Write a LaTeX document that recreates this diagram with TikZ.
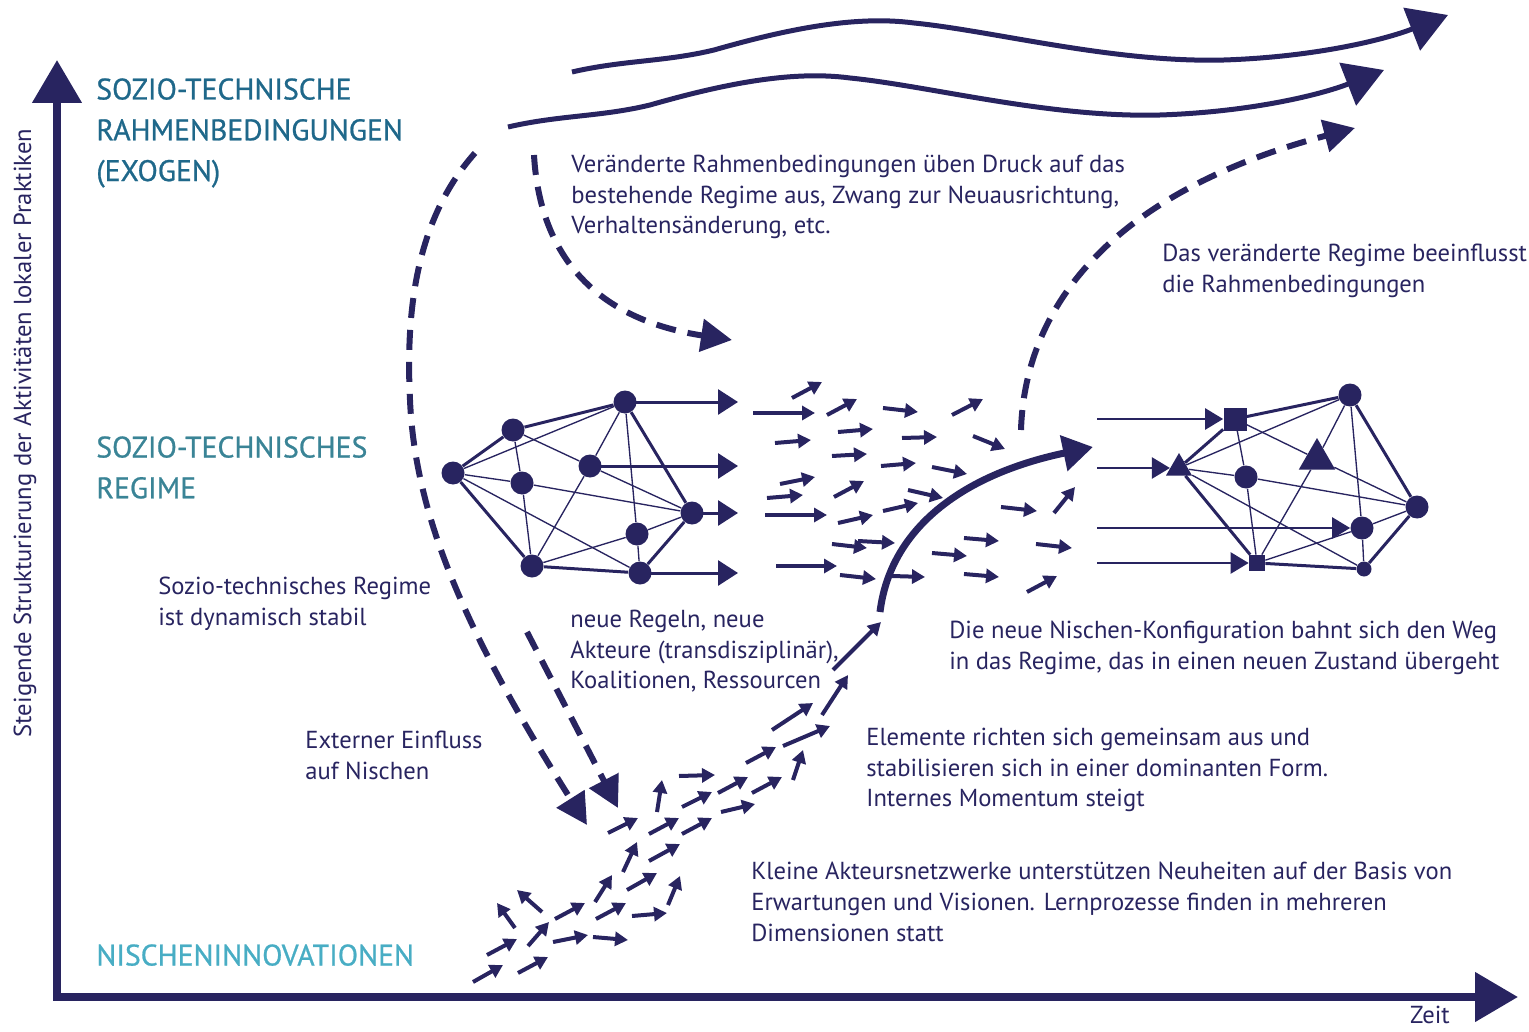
\documentclass[tikz,border=0pt]{standalone}
\usepackage{fontspec}
\setmainfont{PT Sans}
\newfontfamily\headfont[FakeBold=0.8]{PT Sans}
\usetikzlibrary{arrows.meta}
\usetikzlibrary{shapes.geometric}

\definecolor{navy}{RGB}{40,36,96}
\definecolor{tealA}{RGB}{31,104,138}
\definecolor{tealB}{RGB}{58,132,150}
\definecolor{tealC}{RGB}{72,173,196}

\tikzset{
  axis/.style={navy, line width=1.6mm, line cap=rect, -{Triangle[length=8.6mm,width=9.6mm]}},
  wave/.style={navy, line width=1mm, -{Triangle[length=7.8mm,width=9mm]}},
  dasharrow/.style={navy, line width=1.2mm, dash pattern=on 4mm off 2.4mm, -{Triangle[length=6.2mm,width=6.4mm]}},
  pusharrow/.style={navy, line width=1.4mm, -{Triangle[length=6mm,width=7mm]}},
  smallarrow/.style={navy, line width=0.8mm, -{Triangle[length=2.6mm,width=2.8mm]}},
  netarrow/.style={navy, line width=0.6mm, -{Triangle[length=4mm,width=5mm]}},
  inarrow/.style={navy, line width=0.5mm, -{Triangle[length=3.6mm,width=4.2mm]}},
  dot/.style={circle, fill=navy, inner sep=0, minimum size=4.6mm},
  smalldot/.style={circle, fill=navy, inner sep=0, minimum size=3mm},
  sq/.style={rectangle, fill=navy, inner sep=0, minimum size=#1},
  tri/.style={regular polygon, regular polygon sides=3, fill=navy, inner sep=0, minimum size=#1},
  outer/.style={navy, line width=0.6mm},
  inner/.style={navy, line width=0.27mm},
  bodytext/.style={text=navy, align=left, inner sep=0, anchor=north west, font=\fontsize{14}{17.4}\selectfont},
  headtext/.style={align=left, inner sep=0, anchor=north west, font=\headfont\fontsize{16.9}{23.2}\selectfont}
}

\begin{document}
\begin{tikzpicture}[x=0.2mm, y=-0.2mm]
\useasboundingbox (0,0) rectangle (1529,1032);

% axes
\coordinate (origin) at (57,997);
\coordinate (ytop) at (57,60);
\coordinate (xend) at (1518,997);
\draw[axis] (origin) -- (ytop);
\draw[axis] (origin) -- (xend);
\node[text=navy, rotate=90, font=\fontsize{14}{16}\selectfont] (ylabel) at (25,433) {Steigende Strukturierung der Aktivitäten lokaler Praktiken};
\node[text=navy, font=\fontsize{14}{16}\selectfont] (xlabel) at (1430,1015) {Zeit};

% headings
\node[headtext, text=tealA] (hframe) at (96,78) {SOZIO-TECHNISCHE\\RAHMENBEDINGUNGEN\\(EXOGEN)};
\node[headtext, text=tealB] (hregime) at (96,436) {SOZIO-TECHNISCHES\\REGIME};
\node[headtext, text=tealC] (hniche) at (96,944) {NISCHENINNOVATIONEN};

% descriptions
\node[bodytext] (tpressure) at (571,155) {Veränderte Rahmenbedingungen üben Druck auf das\\bestehende Regime aus, Zwang zur Neuausrichtung,\\Verhaltensänderung, etc.};
\node[bodytext] (tfeedback) at (1162,244) {Das veränderte Regime beeinflusst\\die Rahmenbedingungen};
\node[bodytext] (tstable) at (158,577) {Sozio-technisches Regime\\ist dynamisch stabil};
\node[bodytext] (trules) at (570,610) {neue Regeln, neue\\Akteure (transdisziplinär),\\Koalitionen, Ressourcen};
\node[bodytext] (tbreak) at (949,621) {Die neue Nischen-Konfiguration bahnt sich den Weg\\in das Regime, das in einen neuen Zustand übergeht};
\node[bodytext] (textern) at (305,731) {Externer Einfluss\\auf Nischen};
\node[bodytext] (talign) at (866,728) {Elemente richten sich gemeinsam aus und\\stabilisieren sich in einer dominanten Form.\\Internes Momentum steigt};
\node[bodytext] (tsmall) at (751,862) {Kleine Akteursnetzwerke unterstützen Neuheiten auf der Basis von\\Erwartungen und Visionen. Lernprozesse finden in mehreren\\Dimensionen statt};

% landscape waves
\draw[wave] (508,127) .. controls (560,115) and (600,117) .. (650,105) .. controls (720,85) and (790,70) .. (850,78) .. controls (930,86) and (1050,118) .. (1160,115) .. controls (1250,112) and (1320,95) .. (1384,70);
\draw[wave, shift={(64,-55)}] (508,127) .. controls (560,115) and (600,117) .. (650,105) .. controls (720,85) and (790,70) .. (850,78) .. controls (930,86) and (1050,118) .. (1160,115) .. controls (1250,112) and (1320,95) .. (1384,70);

% dashed influences
\draw[dasharrow] (475,153) .. controls (420,215) and (405,300) .. (410,400) .. controls (415,520) and (470,640) .. (587,825);
\draw[dasharrow] (534,155) .. controls (540,260) and (600,320) .. (732,340);
\draw[dasharrow] (527,632) -- (618,808);
\draw[dasharrow] (1021,430) .. controls (1025,300) and (1120,190) .. (1355,128);

% old regime
\node[dot] (l1) at (453,473) {};
\node[dot] (l2) at (513,430) {};
\node[dot] (l3) at (625,402) {};
\node[dot] (l4) at (590,466) {};
\node[dot] (l5) at (522,483) {};
\node[dot] (l6) at (692,513) {};
\node[dot] (l7) at (637,534) {};
\node[dot] (l8) at (532,566) {};
\node[dot] (l9) at (640,573) {};
\draw[outer] (l1) -- (l2) -- (l3) -- (l6) -- (l9) -- (l8) -- (l1);
\foreach \a/\b in {l1/l3, l1/l5, l1/l9, l2/l5, l2/l4, l5/l8, l5/l6, l3/l4, l3/l7, l4/l8, l4/l6, l8/l7, l7/l6, l7/l9}
  \draw[inner] (\a) -- (\b);
\coordinate (outx) at (738,0);
\foreach \n in {l3, l4, l6, l9}
  \draw[netarrow] (\n.center) -- (\n -| outx);

% new regime
\node[sq=4.6mm] (r1) at (1235,419) {};
\node[tri=6mm] (r2) at (1179,468) {};
\node[dot] (r3) at (1246,477) {};
\node[tri=8.4mm] (r4) at (1317,459) {};
\node[dot] (r5) at (1350,395) {};
\node[dot] (r6) at (1417,507) {};
\node[dot] (r7) at (1362,528) {};
\node[sq=3.2mm] (r8) at (1257,563) {};
\node[smalldot] (r9) at (1364,569) {};
\draw[outer] (r1) -- (r5) -- (r6) -- (r9) -- (r8) -- (r2) -- (r1);
\foreach \a/\b in {r2/r5, r2/r3, r2/r9, r1/r3, r3/r8, r1/r4, r4/r6, r3/r6, r5/r4, r4/r8, r5/r7, r7/r9, r7/r6, r8/r7}
  \draw[inner] (\a) -- (\b);
\coordinate (inx) at (1097,0);
\foreach \n in {r1, r2, r7, r8}
  \draw[inarrow] (\n -| inx) -- (\n);

% breakthrough
\draw[pusharrow] (880,612) .. controls (890,530) and (960,475) .. (1093,447);

% turbulent middle
\foreach \xa/\ya/\xb/\yb in {792/398/822/382, 753/413/815/413, 827/415/857/399, 883/408/918/412, 952/415/983/399,
  775/443/811/440, 838/432/873/429, 902/438/937/437, 973/436/1005/449, 832/456/867/454, 881/466/916/463,
  932/467/967/474, 780/484/815/477, 767/498/803/495, 834/497/864/481, 908/490/943/498, 765/515/827/515,
  838/523/873/515, 883/511/918/503, 1001/507/1037/511, 1054/513/1075/487, 832/544/867/548, 858/541/895/543,
  932/553/967/556, 964/538/999/541, 1036/544/1072/548, 776/566/837/566, 840/575/876/579, 892/576/925/577,
  964/574/999/577, 1027/592/1057/576}
  \draw[smallarrow] (\xa,\ya) -- (\xb,\yb);

% niches
\foreach \xa/\ya/\xb/\yb in {473/982/503/965, 518/973/548/957, 487/955/517/939, 515/928/497/903, 542/912/517/890,
  528/946/549/922, 553/942/588/935, 593/937/628/940, 555/919/585/903, 596/919/626/903, 632/916/667/913,
  668/905/680/876, 595/902/612/875, 627/890/657/873, 623/872/637/842, 649/861/680/844, 608/833/638/818,
  649/834/679/818, 682/834/712/818, 657/812/662/780, 682/807/712/792, 679/776/715/775, 718/793/748/777,
  721/812/755/804, 752/793/782/777, 746/763/776/747, 793/780/803/750, 783/746/830/726, 772/730/813/703,
  822/715/848/675, 833/670/881/622}
  \draw[smallarrow] (\xa,\ya) -- (\xb,\yb);

\end{tikzpicture}
\end{document}
